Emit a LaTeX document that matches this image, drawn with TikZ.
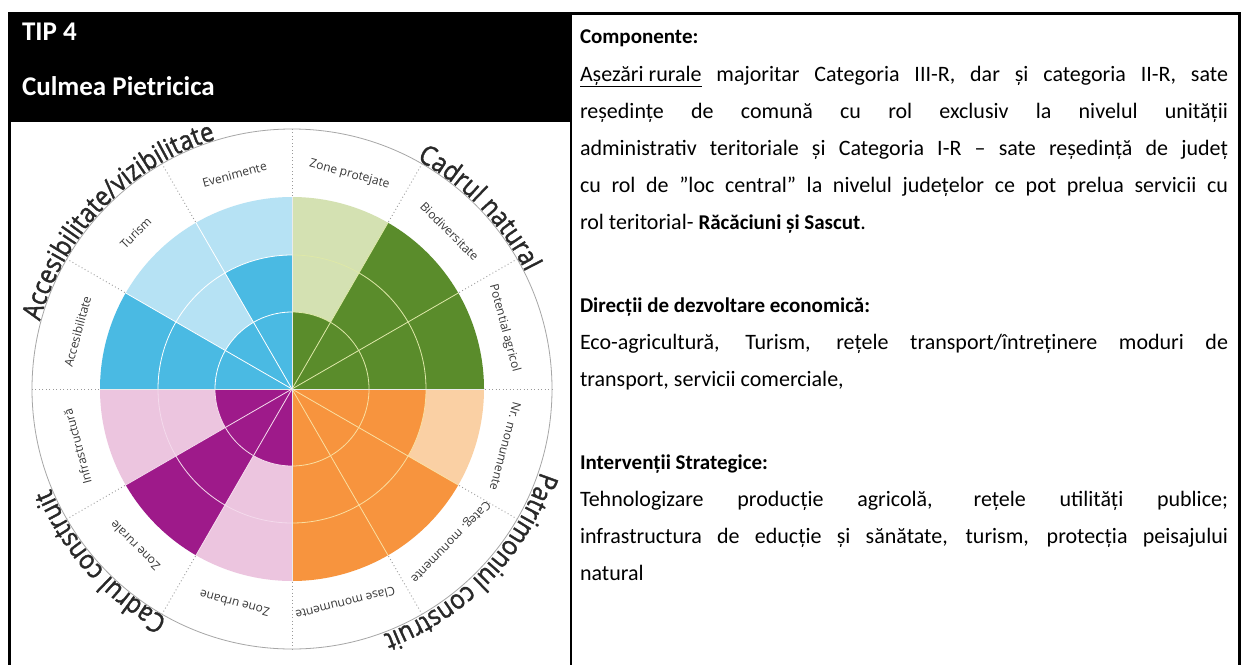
\documentclass[tikz,border=0pt]{standalone}
\usepackage{fontspec}
\setmainfont{Carlito}
\newfontfamily\chartfont{Open Sans}
\newfontfamily\titlefont[FakeBold=1.4, FakeStretch=0.88]{Open Sans}
\usetikzlibrary{decorations.text}
\definecolor{dkgreen}{RGB}{90,140,43}
\definecolor{ltgreen}{RGB}{212,225,178}
\definecolor{dkblue}{RGB}{74,186,227}
\definecolor{ltblue}{RGB}{182,226,244}
\definecolor{dkpurple}{RGB}{158,26,138}
\definecolor{ltpink}{RGB}{236,197,223}
\definecolor{dkorange}{RGB}{247,148,62}
\definecolor{ltorange}{RGB}{250,208,164}
\definecolor{grgreen}{RGB}{222,232,168}
\definecolor{grorange}{RGB}{250,222,160}
\definecolor{grpurple}{RGB}{244,218,236}
\definecolor{titlegray}{RGB}{40,40,40}
\definecolor{labelgray}{RGB}{55,55,55}
\newcommand\mysector[4]{\fill[#4] (0,0) -- (#1:#3) arc[start angle=#1, end angle=#2, radius=#3] -- cycle;}
\newcommand\bodyreg{\fontsize{22}{24}\selectfont}
\newcommand\bodybold[1]{{\bfseries\fontsize{21}{24}\selectfont #1}}
\begin{document}
\begin{tikzpicture}[x=1pt,y=1pt,
  every node/.style={inner sep=0pt, outer sep=0pt},
  body/.style={anchor=base west, font=\bodyreg},
  head/.style={anchor=base west, text=white, font=\bfseries\fontsize{27}{30}\selectfont},
  seclabel/.style={font=\chartfont\fontsize{12}{14}\selectfont, text=labelgray},
  dotline/.style={draw=gray!80, line width=0.9pt, dash pattern=on 0.9pt off 2.6pt},
  outercircle/.style={draw=black!35, line width=0.8pt},
  gridline/.style={line width=0.8pt},
  titletext/.style={decorate, decoration={text along path, text align=center, text color=titlegray,
     text={|\titlefont\fontsize{27}{27}\selectfont|#1}}}]
\useasboundingbox (0,0) rectangle (1241,-664);
\fill[white] (0,0) rectangle (1241,-664);

% ---------- wheel ----------
\begin{scope}[shift={(292,-389)}]
  % green quadrant
  \mysector{60}{90}{192}{ltgreen}
  \mysector{60}{90}{77}{dkgreen}
  \mysector{30}{60}{192}{dkgreen}
  \mysector{0}{30}{192}{dkgreen}
  % blue quadrant
  \mysector{90}{120}{192}{ltblue}
  \mysector{90}{120}{134}{dkblue}
  \mysector{120}{150}{192}{ltblue}
  \mysector{120}{150}{77}{dkblue}
  \mysector{150}{180}{192}{dkblue}
  % purple quadrant
  \mysector{180}{210}{192}{ltpink}
  \mysector{180}{210}{77}{dkpurple}
  \mysector{210}{240}{192}{dkpurple}
  \mysector{240}{270}{192}{ltpink}
  \mysector{240}{270}{77}{dkpurple}
  % orange quadrant
  \mysector{270}{300}{192}{dkorange}
  \mysector{300}{330}{192}{dkorange}
  \mysector{330}{360}{192}{ltorange}
  \mysector{330}{360}{134}{dkorange}
  % grid per quadrant
  \foreach \q/\c in {0/grgreen,90/white,180/grpurple,270/grorange}{
    \draw[gridline, draw=\c] (\q:77) arc[start angle=\q, end angle=\q+90, radius=77];
    \draw[gridline, draw=\c] (\q:134) arc[start angle=\q, end angle=\q+90, radius=134];
    \draw[gridline, draw=\c] (0,0) -- (\q+30:192);
    \draw[gridline, draw=\c] (0,0) -- (\q+60:192);
  }
  \foreach \q in {0,90,180,270}{
    \draw[gridline, draw=white!92!black] (0,0) -- (\q:192);
  }
  % outer band
  \foreach \a in {0,30,...,330}{
    \draw[dotline] (\a:193) -- (\a:260);
  }
  \draw[outercircle] (0,0) circle[radius=260];
  % sector labels
  \node[seclabel, rotate=15]  (l1)  at (105:222) {Evenimente};
  \node[seclabel, rotate=-15] (l2)  at (75:222)  {Zone protejate};
  \node[seclabel, rotate=45]  (l3)  at (135:221) {Turism};
  \node[seclabel, rotate=-45] (l4)  at (45:223)  {Biodiversitate};
  \node[seclabel, rotate=75]  (l5)  at (165:222) {Accesibilitate};
  \node[seclabel, rotate=-75] (l6)  at (16:221)  {Potential agricol};
  \node[seclabel, rotate=105] (l7)  at (195:222) {Infrastructură};
  \node[seclabel, rotate=135] (l8)  at (225:222) {Zone rurale};
  \node[seclabel, rotate=165] (l9)  at (255:222) {Zone urbane};
  \node[seclabel, rotate=194] (l10) at (284:221) {Clase monumente};
  \node[seclabel, rotate=226] (l11) at (316:220) {Categ. monumente};
  \node[seclabel, rotate=255] (l12) at (345:221) {Nr. monumente};
  % category titles along the circle
  \path[titletext={Accesibilitate/vizibilitate}]
     (196:261) arc[start angle=196, end angle=76, radius=261];
  \path[titletext={Cadrul natural}]
     (104:261) arc[start angle=104, end angle=-16, radius=261];
  \path[titletext={Patrimoniul construit}]
     (16:262) arc[start angle=16, end angle=-104, radius=262];
  \path[titletext={Cadrul construit}]
     (282:261) arc[start angle=282, end angle=162, radius=261];
\end{scope}

% ---------- header ----------
\fill[black] (8,-12) rectangle (571,-122);
\node[head] (tip) at (22,-40) {TIP 4};
\node[head] (title) at (22,-95) {Culmea Pietricica};

% ---------- table lines ----------
\draw[line width=2.6pt] (9.3,-667) -- (9.3,-13.3) -- (1239.7,-13.3) -- (1239.7,-667);
\draw[line width=2.6pt] (571,-13.3) -- (571,-667);

% ---------- right column ----------
\node[body] (t1)  at (580,-43)  {\bodybold{Componente:}};
\node[body] (t2)  at (580,-81)  {\makebox[648pt][s]{\underline{Așezări rurale} majoritar Categoria III-R, dar și categoria II-R, sate}};
\node[body] (t3)  at (580,-118) {\makebox[648pt][s]{reședințe de comună cu rol exclusiv la nivelul unității}};
\node[body] (t4)  at (580,-155) {\makebox[648pt][s]{administrativ teritoriale și Categoria I-R – sate reședință de județ}};
\node[body] (t5)  at (580,-192) {\makebox[648pt][s]{cu rol de ”loc central” la nivelul județelor ce pot prelua servicii cu}};
\node[body] (t6)  at (580,-229) {rol teritorial- \bodybold{Răcăciuni și Sascut}.};
\node[body] (t7)  at (580,-312) {\bodybold{Direcții de dezvoltare economică:}};
\node[body] (t8)  at (580,-349) {\makebox[648pt][s]{Eco-agricultură, Turism, rețele transport/întreținere moduri de}};
\node[body] (t9)  at (580,-386) {transport, servicii comerciale,};
\node[body] (t10) at (580,-469) {\bodybold{Intervenții Strategice:}};
\node[body] (t11) at (580,-506) {\makebox[648pt][s]{Tehnologizare producție agricolă, rețele utilități publice;}};
\node[body] (t12) at (580,-543) {\makebox[648pt][s]{infrastructura de educție și sănătate, turism, protecția peisajului}};
\node[body] (t13) at (580,-580) {natural};
\end{tikzpicture}
\end{document}
